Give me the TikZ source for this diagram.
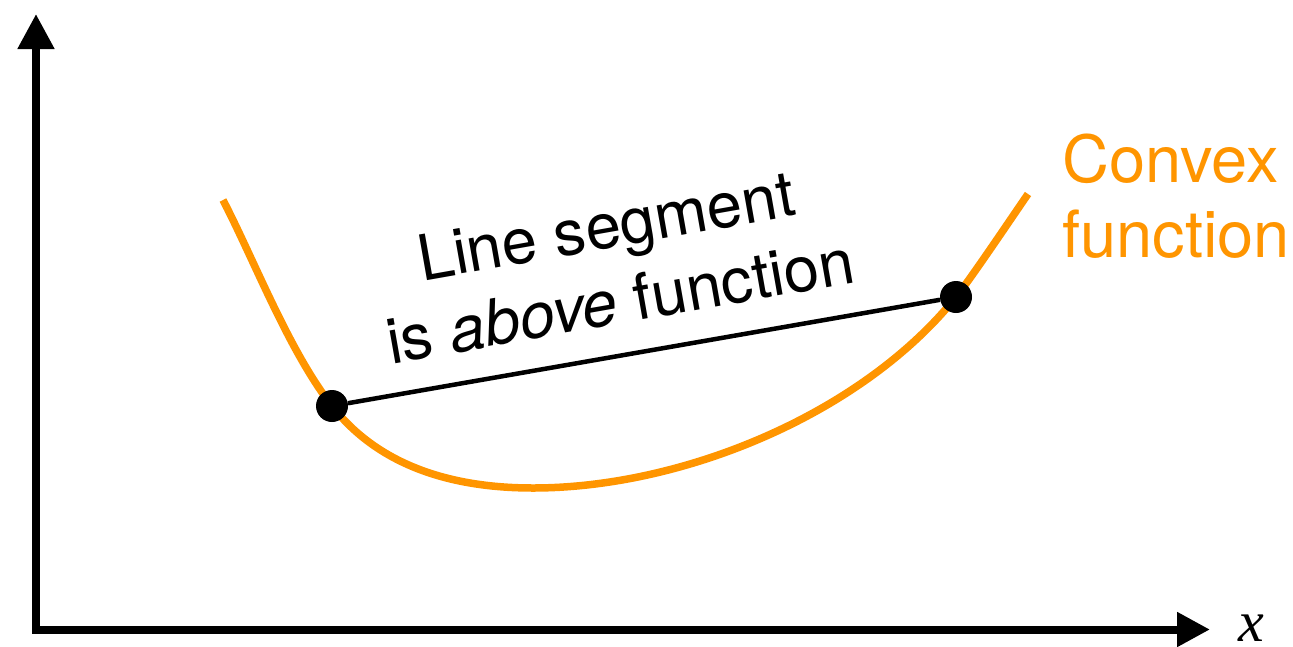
\documentclass[tikz,border=0pt]{standalone}
\usepackage{fontspec}
\setmainfont{TeX Gyre Heros}
\newfontfamily\xfont{Liberation Serif}
\usetikzlibrary{arrows.meta}
\definecolor{convexorange}{RGB}{255,149,0}
\tikzset{
  axisline/.style={line width=8pt, line join=miter},
  curveline/.style={convexorange, line width=7.5pt, line cap=butt},
  dotnode/.style={circle, fill=black, inner sep=0pt, minimum size=32pt},
  seglabel/.style={font=\fontsize{63.5}{75}\selectfont, rotate=10, anchor=base, inner sep=0pt},
  convexlabel/.style={font=\fontsize{65}{75}\selectfont, text=convexorange, anchor=base west, inner sep=0pt},
  segline/.style={line width=4.5pt}
}
\begin{document}
\begin{tikzpicture}[x=1pt, y=-1pt]
\useasboundingbox (0,0) rectangle (1293,646);
% axes
\coordinate (ytop) at (36,14);
\coordinate (origin) at (36,629.5);
\coordinate (xend) at (1210,629.5);
\draw[axisline, {Triangle[length=35pt,width=35pt]}-{Triangle[length=33pt,width=33pt]}] (ytop) -- (origin) -- (xend);
\node[font=\fontsize{58}{60}\selectfont\xfont\itshape, anchor=base west, inner sep=0pt] (xlabel) at (1238,641) {x};
% convex curve
\draw[curveline] (223,200)
  .. controls (255,262) and (289,351) .. (332,406)
  .. controls (375,461) and (443,488) .. (533,488)
  .. controls (683,488) and (862,414) .. (956,297)
  .. controls (971.6,277.5) and (1013.8,214.5) .. (1028,194);
% points and segment
\node[dotnode] (p1) at (332,406) {};
\node[dotnode] (p2) at (956,297) {};
\draw[segline] (p1) -- (p2);
% labels
\node[seglabel] (l1) at (610,248) {Line segment};
\node[seglabel] (l2) at (624,323) {is \textit{above} function};
\node[convexlabel] (c1) at (1062,182) {Convex};
\node[convexlabel] (c2) at (1062,257) {function};
\end{tikzpicture}
\end{document}
